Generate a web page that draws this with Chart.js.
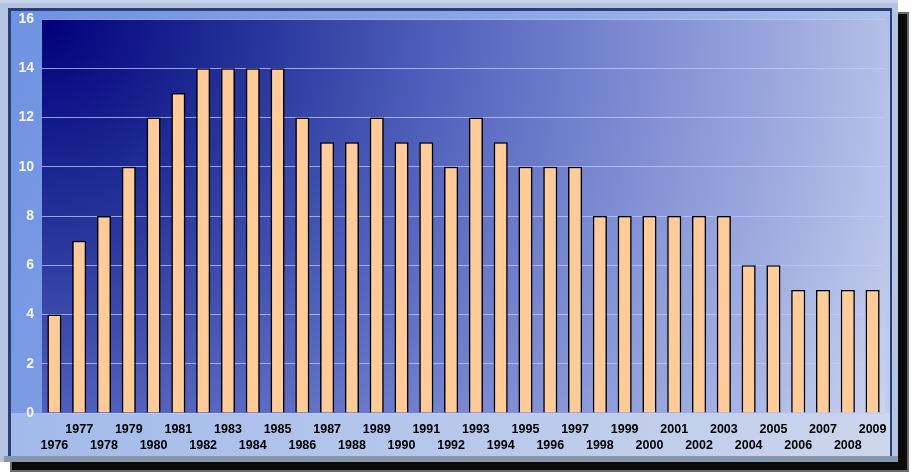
<!DOCTYPE html>
<html>
<head>
<meta charset="utf-8">
<script src="https://cdn.jsdelivr.net/npm/chart.js@4/dist/chart.umd.min.js"></script>
<style>
  html, body { margin: 0; padding: 0; background: #ffffff; }
  #chart { display: block; }
</style>
</head>
<body>
<canvas id="chart" width="911" height="473"></canvas>
<script>
const years = [
    '1976', '1977', '1978', '1979', '1980', '1981', '1982', '1983', '1984', '1985',
    '1986', '1987', '1988', '1989', '1990', '1991', '1992', '1993', '1994', '1995',
    '1996', '1997', '1998', '1999', '2000', '2001', '2002', '2003', '2004', '2005',
    '2006', '2007', '2008', '2009',
];
const counts = [
    4, 7, 8, 10, 12, 13, 14, 14, 14, 14,
    12, 11, 11, 12, 11, 11, 10, 12, 11, 10,
    10, 10, 8, 8, 8, 8, 8, 8, 6, 6,
    5, 5, 5, 5,
];
const yTicks = [0, 2, 4, 6, 8, 10, 12, 14, 16];

// Frame, shadow and the blue panels behind the plot.
const framePlugin = {
    id: 'frame',
    beforeDraw(chart) {
        const ctx = chart.ctx;
        const area = chart.chartArea;
        ctx.save();

        ctx.fillStyle = '#ffffff';
        ctx.fillRect(0, 0, chart.width, chart.height);

        // drop shadow on right / bottom
        ctx.fillStyle = '#6a6a6a';
        ctx.fillRect(10, 12, 899, 460);
        ctx.fillStyle = '#0a0a0a';
        ctx.fillRect(12, 14, 895, 456);

        // outer bevel
        ctx.fillStyle = '#b4c4e2';
        ctx.fillRect(0, 0, 898, 462);
        ctx.fillStyle = '#8796aa';
        ctx.fillRect(4, 456, 894, 6);
        ctx.fillStyle = '#c8d4ea';
        ctx.fillRect(0, 0, 898, 3);

        // dark inner line
        ctx.fillStyle = '#2c3e78';
        ctx.fillRect(8, 8, 884, 448);

        // textured blue panel
        const panel = ctx.createLinearGradient(11, 11, 890, 455);
        panel.addColorStop(0, '#6f92e2');
        panel.addColorStop(0.5, '#8eaae6');
        panel.addColorStop(1, '#c4d0ec');
        ctx.fillStyle = panel;
        ctx.fillRect(11, 11, 879, 445);

        // lighter label strip under the plot
        const strip = ctx.createLinearGradient(11, 0, 890, 0);
        strip.addColorStop(0, '#a2baea');
        strip.addColorStop(1, '#ccd6ec');
        ctx.fillStyle = strip;
        ctx.fillRect(11, area.bottom, 879, 456 - area.bottom);

        // plot area gradient, dark navy at top-left
        const g = ctx.createRadialGradient(area.left, area.top, 0, area.left, area.top, 960);
        g.addColorStop(0, '#00007a');
        g.addColorStop(0.22, '#26349a');
        g.addColorStop(0.42, '#5262bc');
        g.addColorStop(0.62, '#7d8cd2');
        g.addColorStop(0.82, '#a6b2e2');
        g.addColorStop(1, '#d2daf2');
        ctx.fillStyle = g;
        ctx.fillRect(area.left, area.top, area.right - area.left, area.bottom - area.top);

        ctx.restore();
    },
};

new Chart(document.getElementById('chart'), {
    type: 'bar',
    data: {
        labels: years,
        datasets: [{
            data: counts,
            backgroundColor: '#ffcc99',
            borderColor: '#000000',
            borderWidth: 1.6,
            barPercentage: 0.57,
            categoryPercentage: 1,
        }],
    },
    options: {
        responsive: false,
        animation: false,
        layout: {
            padding: { left: 11, right: 26, top: 19, bottom: 20 },
        },
        plugins: {
            legend: { display: false },
            tooltip: { enabled: false },
        },
        scales: {
            x: {
                grid: { display: false, drawTicks: false },
                border: { display: false },
                afterFit: (s) => { s.height = 40; },
                ticks: {
                    autoSkip: false,
                    maxRotation: 0,
                    minRotation: 0,
                    padding: 8,
                    color: '#000000',
                    font: { family: 'Liberation Sans, Arial, sans-serif', size: 12.5, weight: 'bold', lineHeight: 1.3 },
                    callback: function (value, index) {
                        const label = years[index];
                        return index % 2 === 1 ? [label, ' '] : [' ', label];
                    },
                },
            },
            y: {
                min: 0,
                max: 16,
                afterFit: (s) => { s.width = 31; },
                afterBuildTicks: (s) => { s.ticks = yTicks.map((v) => ({ value: v })); },
                grid: { color: 'rgba(196, 200, 255, 0.75)', lineWidth: 1, drawTicks: false },
                border: { display: false },
                ticks: {
                    padding: 8,
                    color: '#f4f4ea',
                    font: { family: 'Liberation Sans, Arial, sans-serif', size: 14, weight: 'bold' },
                },
            },
        },
    },
    plugins: [framePlugin],
});
</script>
</body>
</html>
